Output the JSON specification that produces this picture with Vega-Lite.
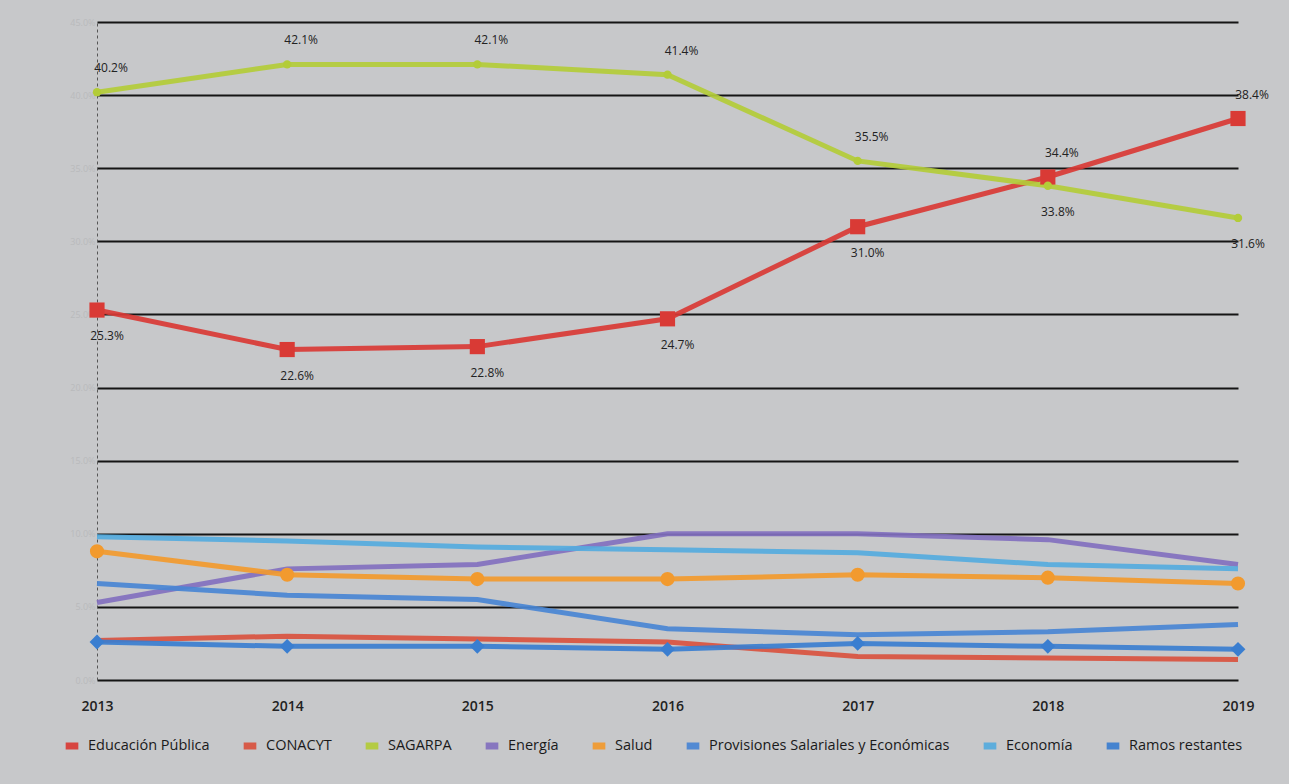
{
  "$schema": "https://vega.github.io/schema/vega-lite/v6.json",
  "width": 1141,
  "height": 658,
  "autosize": "none",
  "padding": {"left": 97, "top": 22, "right": 51, "bottom": 104},
  "background": "#c7c8ca",
  "config": {
    "view": {"stroke": null},
    "font": "Open Sans"
  },
  "data": {
    "values": [
      {"serie": "Educación Pública", "year": "2013", "v": 0.253},
      {"serie": "Educación Pública", "year": "2014", "v": 0.226},
      {"serie": "Educación Pública", "year": "2015", "v": 0.228},
      {"serie": "Educación Pública", "year": "2016", "v": 0.247},
      {"serie": "Educación Pública", "year": "2017", "v": 0.310},
      {"serie": "Educación Pública", "year": "2018", "v": 0.344},
      {"serie": "Educación Pública", "year": "2019", "v": 0.384},
      {"serie": "CONACYT", "year": "2013", "v": 0.027},
      {"serie": "CONACYT", "year": "2014", "v": 0.030},
      {"serie": "CONACYT", "year": "2015", "v": 0.028},
      {"serie": "CONACYT", "year": "2016", "v": 0.026},
      {"serie": "CONACYT", "year": "2017", "v": 0.016},
      {"serie": "CONACYT", "year": "2018", "v": 0.015},
      {"serie": "CONACYT", "year": "2019", "v": 0.014},
      {"serie": "SAGARPA", "year": "2013", "v": 0.402},
      {"serie": "SAGARPA", "year": "2014", "v": 0.421},
      {"serie": "SAGARPA", "year": "2015", "v": 0.421},
      {"serie": "SAGARPA", "year": "2016", "v": 0.414},
      {"serie": "SAGARPA", "year": "2017", "v": 0.355},
      {"serie": "SAGARPA", "year": "2018", "v": 0.338},
      {"serie": "SAGARPA", "year": "2019", "v": 0.316},
      {"serie": "Energía", "year": "2013", "v": 0.053},
      {"serie": "Energía", "year": "2014", "v": 0.076},
      {"serie": "Energía", "year": "2015", "v": 0.079},
      {"serie": "Energía", "year": "2016", "v": 0.100},
      {"serie": "Energía", "year": "2017", "v": 0.100},
      {"serie": "Energía", "year": "2018", "v": 0.096},
      {"serie": "Energía", "year": "2019", "v": 0.079},
      {"serie": "Salud", "year": "2013", "v": 0.088},
      {"serie": "Salud", "year": "2014", "v": 0.072},
      {"serie": "Salud", "year": "2015", "v": 0.069},
      {"serie": "Salud", "year": "2016", "v": 0.069},
      {"serie": "Salud", "year": "2017", "v": 0.072},
      {"serie": "Salud", "year": "2018", "v": 0.070},
      {"serie": "Salud", "year": "2019", "v": 0.066},
      {"serie": "Provisiones Salariales y Económicas", "year": "2013", "v": 0.066},
      {"serie": "Provisiones Salariales y Económicas", "year": "2014", "v": 0.058},
      {"serie": "Provisiones Salariales y Económicas", "year": "2015", "v": 0.055},
      {"serie": "Provisiones Salariales y Económicas", "year": "2016", "v": 0.035},
      {"serie": "Provisiones Salariales y Económicas", "year": "2017", "v": 0.031},
      {"serie": "Provisiones Salariales y Económicas", "year": "2018", "v": 0.033},
      {"serie": "Provisiones Salariales y Económicas", "year": "2019", "v": 0.038},
      {"serie": "Economía", "year": "2013", "v": 0.098},
      {"serie": "Economía", "year": "2014", "v": 0.095},
      {"serie": "Economía", "year": "2015", "v": 0.091},
      {"serie": "Economía", "year": "2016", "v": 0.089},
      {"serie": "Economía", "year": "2017", "v": 0.087},
      {"serie": "Economía", "year": "2018", "v": 0.079},
      {"serie": "Economía", "year": "2019", "v": 0.076},
      {"serie": "Ramos restantes", "year": "2013", "v": 0.026},
      {"serie": "Ramos restantes", "year": "2014", "v": 0.023},
      {"serie": "Ramos restantes", "year": "2015", "v": 0.023},
      {"serie": "Ramos restantes", "year": "2016", "v": 0.021},
      {"serie": "Ramos restantes", "year": "2017", "v": 0.025},
      {"serie": "Ramos restantes", "year": "2018", "v": 0.023},
      {"serie": "Ramos restantes", "year": "2019", "v": 0.021}
    ]
  },
  "encoding": {
    "x": {
      "field": "year", "type": "ordinal",
      "scale": {"type": "point", "padding": 0},
      "axis": {
        "title": null, "labelAngle": 0, "domain": false, "ticks": false,
        "labelPadding": 19, "labelFontSize": 14, "labelFontWeight": 600,
        "labelColor": "#222222", "labelFont": "Open Sans"
      }
    },
    "y": {
      "field": "v", "type": "quantitative",
      "scale": {"domain": [0, 0.45], "nice": false},
      "axis": {
        "title": null, "values": [0, 0.05, 0.1, 0.15, 0.2, 0.25, 0.3, 0.35, 0.4, 0.45],
        "format": ".1%", "grid": true, "gridColor": "#151515", "gridWidth": 2,
        "domain": true, "domainColor": "#555555", "domainWidth": 1, "domainDash": [3, 3],
        "ticks": false, "labelFontSize": 9, "labelColor": "#b9babc", "labelPadding": 2
      }
    },
    "color": {
      "field": "serie", "type": "nominal",
      "scale": {
        "domain": ["Educación Pública", "CONACYT", "SAGARPA", "Energía", "Salud", "Provisiones Salariales y Económicas", "Economía", "Ramos restantes"],
        "range": ["#d93a35", "#d9523f", "#b3cc38", "#8270bf", "#f29a2e", "#4985d4", "#55abde", "#3a7ed0"]
      },
      "legend": {
        "title": null, "orient": "none", "legendX": -35, "legendY": 714,
        "direction": "horizontal", "columns": 8, "columnPadding": 19,
        "symbolType": "stroke", "symbolStrokeWidth": 7, "symbolSize": 160,
        "labelFontSize": 14.5, "labelColor": "#1a1a1a", "labelFont": "Open Sans",
        "labelLimit": 400, "labelOffset": 6
      }
    }
  },
  "layer": [
    {
      "mark": {"type": "line", "strokeWidth": 5, "opacity": 0.92}
    },
    {
      "transform": [{"filter": "datum.serie == 'Educación Pública'"}],
      "mark": {"type": "point", "filled": true, "opacity": 1, "shape": "square", "size": 230}
    },
    {
      "transform": [{"filter": "datum.serie == 'SAGARPA'"}],
      "mark": {"type": "point", "filled": true, "opacity": 1, "shape": "circle", "size": 70}
    },
    {
      "transform": [{"filter": "datum.serie == 'Salud'"}],
      "mark": {"type": "point", "filled": true, "opacity": 1, "shape": "circle", "size": 200}
    },
    {
      "transform": [{"filter": "datum.serie == 'Ramos restantes'"}],
      "mark": {"type": "point", "filled": true, "opacity": 1, "shape": "diamond", "size": 220}
    },
    {
      "transform": [{"filter": "(datum.serie == 'SAGARPA' && datum.year <= '2017') || (datum.serie == 'Educación Pública' && datum.year >= '2018')"}],
      "mark": {"type": "text", "dy": -24, "dx": 14, "fontSize": 12, "font": "Open Sans", "color": "#222222"},
      "encoding": {
        "text": {"field": "v", "type": "quantitative", "format": ".1%"},
        "color": {"value": "#222222"}
      }
    },
    {
      "transform": [{"filter": "(datum.serie == 'SAGARPA' && datum.year >= '2018') || (datum.serie == 'Educación Pública' && datum.year <= '2017')"}],
      "mark": {"type": "text", "dy": 26, "dx": 10, "fontSize": 12, "font": "Open Sans", "color": "#222222"},
      "encoding": {
        "text": {"field": "v", "type": "quantitative", "format": ".1%"},
        "color": {"value": "#222222"}
      }
    }
  ]
}
